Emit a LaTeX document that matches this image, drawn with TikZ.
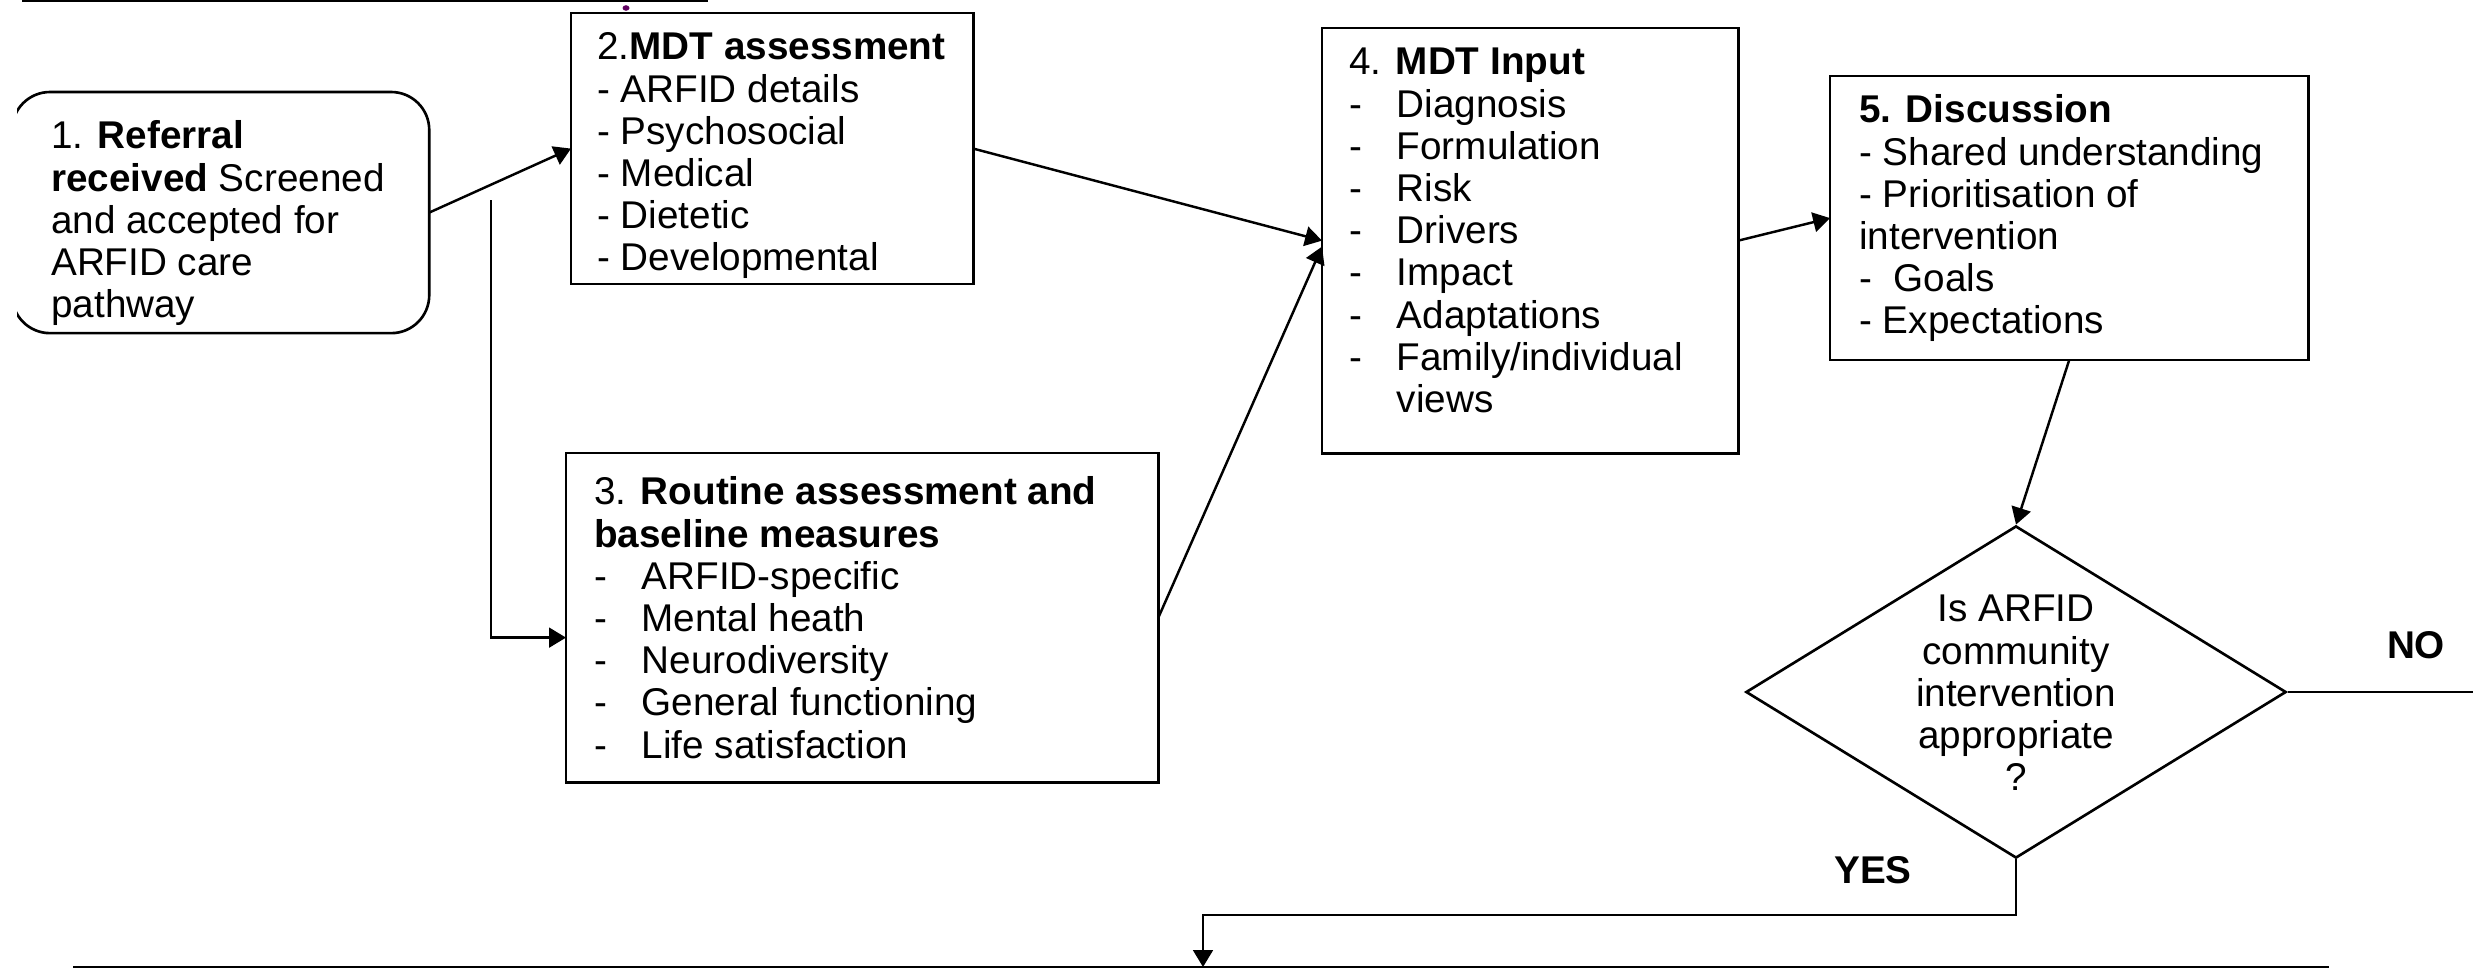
\documentclass[tikz,border=0pt]{standalone}
\usepackage{fontspec}
\setmainfont{Liberation Sans}
\usetikzlibrary{arrows.meta,shapes.geometric}
% strut fixing the height of the first line of every text block
\newcommand{\fs}{\rule{0pt}{9pt}}
% dash followed by a tab stop, and the bare tab stop
\newcommand{\dashtab}{\makebox[0.475cm][l]{-}}
\newcommand{\tabgap}{\makebox[0.475cm]{}}
\begin{document}
\begin{tikzpicture}[x=0.01cm,y=-0.01cm,
  line width=0.7pt,
  box/.style={draw, line width=0.75pt, anchor=north west, inner sep=0pt, outer sep=0pt},
  txt/.style={anchor=north west, inner sep=0pt, align=left, font=\fontsize{11}{12}\selectfont},
  ctxt/.style={anchor=north, inner sep=0pt, align=center, font=\fontsize{11}{12}\selectfont},
  lbl/.style={inner sep=0pt, font=\fontsize{11}{12}\selectfont\bfseries},
  arr/.style={-{Triangle[length=4.8pt,width=5.6pt]}},
]
\useasboundingbox (0,0) rectangle (2473,969);

% edges of the neighbouring boxes above and below
\coordinate (topL) at (22,1);
\coordinate (topR) at (708,1);
\draw (topL) -- (topR);
\coordinate (botL) at (73,967);
\coordinate (botR) at (2329,967);
\draw (botL) -- (botR);
\fill[violet!75!black] (626,8) ellipse [x radius=0.035cm, y radius=0.028cm];

% step boxes
\node[box, draw=none, minimum width=4.17cm, minimum height=2.41cm] (b1) at (12,92) {};
\begin{scope}
  \clip (17,0) rectangle (2473,969);
  \draw[line width=0.75pt, rounded corners=0.38cm] (b1.north west) rectangle (b1.south east);
\end{scope}
\node[box, minimum width=4.02cm, minimum height=2.71cm] (b2) at (571,13) {};
\node[box, minimum width=5.92cm, minimum height=3.29cm] (b3) at (566,453) {};
\node[box, minimum width=4.16cm, minimum height=4.25cm] (b4) at (1322,28) {};
\node[box, minimum width=4.78cm, minimum height=2.84cm] (b5) at (1830,76) {};
\node[draw, diamond, line width=0.75pt, inner sep=0pt, minimum width=5.4cm, minimum height=3.32cm] (dec) at (2016,692) {};

% box texts
\node[txt] (t1) at (50,116) {\fs 1. \textbf{Referral}\\ \textbf{received} Screened\\ and accepted for\\ ARFID care\\ pathway};
\node[txt] (t2) at (596,27) {\fs 2.\textbf{MDT assessment}\\ - ARFID details\\ - Psychosocial\\ - Medical\\ - Dietetic\\ - Developmental};
\node[txt] (t3) at (593,472) {\fs 3. \textbf{Routine assessment and}\\ \textbf{baseline measures}\\ \dashtab ARFID-specific\\ \dashtab Mental heath\\ \dashtab Neurodiversity\\ \dashtab General functioning\\ \dashtab Life satisfaction};
\node[txt] (t4) at (1348,42) {\fs 4. \textbf{MDT Input}\\ \dashtab Diagnosis\\ \dashtab Formulation\\ \dashtab Risk\\ \dashtab Drivers\\ \dashtab Impact\\ \dashtab Adaptations\\ \dashtab Family/individual\\ \tabgap views};
\node[txt] (t5) at (1858,90) {\fs \textbf{5. Discussion}\\ - Shared understanding\\ - Prioritisation of\\ intervention\\ -~ Goals\\ - Expectations};
\node[ctxt] (td) at (2016,589) {\fs Is ARFID\\ community\\ intervention\\ appropriate\\ ?};
\node[lbl] (no) at (2416,645) {NO};
\node[lbl] (yes) at (1873,870) {YES};

% connectors
\draw[arr] (b1.east) -- (b2.west);
\coordinate (split) at (491,200);
\draw[arr] (split) |- ([yshift=-0.2cm]b3.west);
\draw[arr] (b2.east) -- (b4.west);
\draw[arr] (b3.east) -- ([yshift=-0.06cm]b4.west);
\draw[arr] (b4.east) -- (b5.west);
\draw[arr] (b5.south) -- (dec.north);
\coordinate (noend) at (2473,692);
\draw (dec.east) -- (noend);
\coordinate (yesbend) at (2016,915);
\coordinate (yesdrop) at (1203,967);
\draw[arr] (dec.south) -- (yesbend) -| (yesdrop);
\end{tikzpicture}
\end{document}
